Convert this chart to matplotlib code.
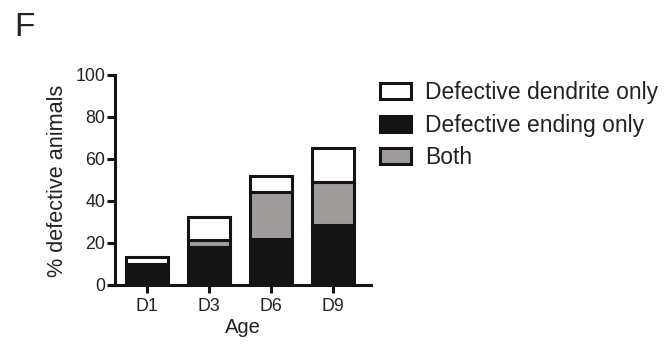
import matplotlib
matplotlib.use("Agg")
import numpy as np
import matplotlib.pyplot as plt
from matplotlib.patches import Patch

plt.rcParams['font.family'] = ['Liberation Sans', 'DejaVu Sans']

ages = ['D1', 'D3', 'D6', 'D9']
ending_only = [10, 18.2, 21.8, 28.6]
both = [0, 3.2, 22.3, 20.6]
dendrite_only = [3.5, 10.8, 7.9, 15.8]

dark = '#141414'
grey = '#a19c9c'
txt = '#222222'

fig = plt.figure(figsize=(6.64, 3.45), dpi=100)
ax = fig.add_axes([0.173, 0.174, 0.385, 0.609])

x = np.arange(len(ages))
w = 0.67
lw = 2.2
b1 = np.array(ending_only)
b2 = b1 + np.array(both)
ax.bar(x, ending_only, w, color=dark, edgecolor=dark, linewidth=lw)
ax.bar(x, both, w, bottom=b1, color=grey, edgecolor=dark, linewidth=lw)
ax.bar(x, dendrite_only, w, bottom=b2, color='white', edgecolor=dark, linewidth=lw)

ax.set_xlim(-0.52, 3.6)
ax.set_ylim(0, 100)
ax.set_yticks([0, 20, 40, 60, 80, 100])
ax.set_xticks(x)
ax.set_xticklabels(ages)
for s in ['top', 'right']:
    ax.spines[s].set_visible(False)
for s in ['left', 'bottom']:
    ax.spines[s].set_linewidth(2.2)
    ax.spines[s].set_color(dark)
ax.tick_params(width=2.2, length=5.5, labelsize=12.8, color=dark, labelcolor=txt)
ax.tick_params(axis='y', pad=1.5)
ax.tick_params(axis='x', pad=4)
ax.set_ylabel('% defective animals', fontsize=15.6, color=txt)
ax.yaxis.set_label_coords(-0.185, 0.495)
ax.set_xlabel('Age', fontsize=14.5, color=txt)
ax.xaxis.set_label_coords(0.5, -0.155)

handles = [Patch(facecolor='white', edgecolor=dark, linewidth=2.2),
           Patch(facecolor=dark, edgecolor=dark, linewidth=2.2),
           Patch(facecolor=grey, edgecolor=dark, linewidth=2.2)]
labels = ['Defective dendrite only', 'Defective ending only', 'Both']
fig.legend(handles, labels, loc='upper left', bbox_to_anchor=(0.573, 0.765),
           frameon=False, fontsize=16.5, handlelength=1.35, handleheight=0.7,
           labelspacing=0.42, handletextpad=0.6, borderpad=0, borderaxespad=0,
           labelcolor=txt)

fig.text(0.022, 0.965, 'F', fontsize=24, color=txt, va='top')

fig.savefig('out.png', dpi=100)
